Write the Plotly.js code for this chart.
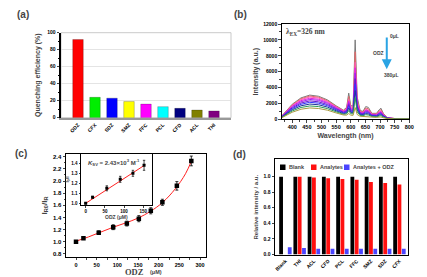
<!DOCTYPE html>
<html><head><meta charset="utf-8">
<script src="https://cdn.plot.ly/plotly-3.0.1.min.js"></script>
<style>html,body{margin:0;padding:0;background:#fff}#g{width:427px;height:277px}</style>
</head><body><div id="g"></div>
<script>
// ---- Panel (a) data ----
const aCats = ['ODZ','CFX','SDZ','SMZ','FFC','PCL','CFD','ACL','THI'];
const aVals = [92, 24, 23, 19, 16, 13, 11, 9, 8];
const aColors = ['#ff0000','#00ee00','#0000ff','#ffff00','#ff00ff','#00ffff','#000080','#808000','#800080'];

// ---- Panel (b) data ----
const bWave = [365,380,400,430,460,490,520,550,575,586,593,600,608,615,622,632,642,651,660,672,688,697,703,712,725,750,800];
const bS0 = [450,1100,1900,2700,3050,2900,2450,1700,1150,1500,3300,1700,1700,10000,2800,1100,1000,1600,1500,750,750,1200,1400,700,200,100,100];
const bS1 = [430,1060,1820,2590,2930,2780,2350,1630,1100,1380,2890,1540,1530,8500,2440,1010,920,1420,1330,690,680,1050,1220,620,190,100,100];
const bS2 = [410,1010,1750,2480,2810,2670,2250,1560,1060,1270,2520,1390,1380,7180,2130,920,840,1250,1170,640,620,920,1060,560,180,90,90];
const bS3 = [390,960,1650,2350,2650,2520,2130,1480,1000,1190,2310,1290,1280,6490,1940,860,790,1150,1080,590,570,850,970,510,170,90,90];
const bS4 = [370,900,1560,2210,2500,2380,2010,1390,940,1100,2100,1190,1170,5810,1760,800,730,1050,980,550,530,770,880,470,160,80,80];
const bS5 = [340,840,1440,2050,2320,2200,1860,1290,870,1010,1870,1080,1060,5120,1580,730,670,950,880,500,480,690,780,420,150,80,80];
const bS6 = [320,770,1330,1890,2140,2030,1720,1190,810,910,1650,970,950,4420,1390,660,600,840,780,460,430,610,690,380,140,70,70];
const bS7 = [280,690,1200,1700,1920,1830,1540,1070,720,800,1400,840,830,3630,1170,580,530,720,670,400,380,520,580,330,130,60,60];
const bS8 = [250,610,1050,1490,1680,1600,1350,940,630,680,1110,700,680,2740,930,490,450,580,540,340,310,410,460,270,110,60,60];
const bS9 = [210,520,890,1270,1430,1360,1150,800,540,530,730,520,500,1480,600,380,350,400,370,270,240,280,290,190,90,50,50];
const bSeries = [bS0,bS1,bS2,bS3,bS4,bS5,bS6,bS7,bS8,bS9];
const bColors = ['#7a7a7a','#e06a6a','#ff5ab0','#e020e0','#a020f0','#6a1cc8','#3535ff','#22349a','#2e9a5a','#a89a40'];

// ---- Panel (c) data ----
const cX = [0, 18, 55, 90, 123, 152, 181, 209, 244, 279];
const cY = [1.00, 1.06, 1.15, 1.24, 1.30, 1.38, 1.51, 1.65, 1.92, 2.33];
const cErr = [0.02, 0.02, 0.03, 0.04, 0.04, 0.05, 0.05, 0.05, 0.07, 0.08];
const cFitX = [0, 30, 60, 90, 120, 150, 180, 210, 240, 265, 280];
const cFitY = [1.01, 1.08, 1.16, 1.24, 1.31, 1.39, 1.50, 1.65, 1.87, 2.12, 2.34];
const iX = [0, 18, 55, 90, 123, 152];
const iY = [1.00, 1.06, 1.15, 1.24, 1.30, 1.38];
const iErr = [0.005, 0.01, 0.025, 0.03, 0.03, 0.05];
const iFitX = [0, 155];
const iFitY = [1.00, 1.385];

// ---- Panel (d) data ----
const dCats = ['Blank','THI','ACL','CFD','PCL','FFC','SMZ','SDZ','CFX'];
const dBlank = [1.0, 1.0, 1.0, 1.0, 1.0, 1.0, 1.0, 1.0, 1.0];
const dAnalytes = [null, 1.0, 0.99, 0.98, 0.97, 0.96, 0.93, 0.92, 0.90];
const dAnalytesODZ = [0.09, 0.08, 0.07, 0.07, 0.07, 0.07, 0.07, 0.07, 0.07];
const dTicks = [0, 0.2, 0.4, 0.6, 0.8, 1.0];

const W = 427, H = 277;
const px = v => v / W;
const py = v => 1 - v / H;
const F = 'Liberation Sans, Arial, sans-serif';
const TF = 'Liberation Serif, Times New Roman, serif';
const tickF = s => ({family: F, size: s, color: '#000', weight: 'bold'});

const traces = [];
traces.push({type:'bar', x:aCats, y:aVals, xaxis:'x', yaxis:'y', width:0.62,
  marker:{color:aColors, line:{color:'rgba(0,0,0,0.35)', width:0.6}}, showlegend:false});

bSeries.forEach((s,i) => traces.push({type:'scatter', mode:'lines', x:bWave, y:s, xaxis:'x2', yaxis:'y2',
  line:{color:bColors[i], width:1}, showlegend:false}));

traces.push({type:'scatter', mode:'lines', x:cFitX, y:cFitY, xaxis:'x3', yaxis:'y3',
  line:{color:'#ff2020', width:1, shape:'spline'}, showlegend:false});
traces.push({type:'scatter', mode:'markers', x:cX, y:cY, xaxis:'x3', yaxis:'y3',
  marker:{symbol:'square', size:4.5, color:'#000'},
  error_y:{type:'data', array:cErr, color:'#000', thickness:0.8, width:1.5}, showlegend:false});
traces.push({type:'scatter', mode:'lines', x:iFitX, y:iFitY, xaxis:'x4', yaxis:'y4',
  line:{color:'#ff2020', width:1}, showlegend:false});
traces.push({type:'scatter', mode:'markers', x:iX, y:iY, xaxis:'x4', yaxis:'y4',
  marker:{symbol:'square', size:3, color:'#000'},
  error_y:{type:'data', array:iErr, color:'#000', thickness:0.7, width:1.2}, showlegend:false});

traces.push({type:'bar', x:dCats, y:dBlank, xaxis:'x5', yaxis:'y5', name:'Blank', marker:{color:'#000'}, showlegend:false});
traces.push({type:'bar', x:dCats, y:dAnalytes, xaxis:'x5', yaxis:'y5', name:'Analytes', marker:{color:'#ff1010'}, showlegend:false});
traces.push({type:'bar', x:dCats, y:dAnalytesODZ, xaxis:'x5', yaxis:'y5', name:'Analytes + ODZ', marker:{color:'#4a44ff'}, showlegend:false});

const ax = (o) => Object.assign({showgrid:false, zeroline:false, ticks:'outside', ticklen:2.5, tickwidth:1,
  linecolor:'#000', linewidth:1, tickfont:tickF(5.5), automargin:false}, o);

const layout = {
  width: W, height: H, margin:{l:0,r:0,t:0,b:0}, paper_bgcolor:'#fff', plot_bgcolor:'#fff',
  barmode:'group', bargap:0.09, bargroupgap:0.12, showlegend:false,
  xaxis: ax({domain:[px(61),px(231)], range:[-1,9], anchor:'y', showline:true, linecolor:'#999', linewidth:2.5, ticks:'',
    tickangle:-45, tickfont:tickF(5)}),
  yaxis: ax({domain:[py(117.7),py(32.7)], range:[0,100], anchor:'x', dtick:20, showline:true, linewidth:2,
    showgrid:true, gridcolor:'#d8d8d8', gridwidth:0.7, tickfont:tickF(5),
    minor:{dtick:10, ticks:'outside', ticklen:1.5, tickcolor:'#000'},
    title:{text:'Quenching efficiency (%)', font:{family:F, size:7, weight:'bold'}, standoff:6}}),
  xaxis2: ax({domain:[px(281.7),px(409.3)], range:[364,800], anchor:'y2', dtick:50, tick0:400, showline:true, mirror:true,
    minor:{dtick:25, ticks:'outside', ticklen:1.5},
    title:{text:'Wavelength (nm)', font:{family:F, size:7, weight:'bold'}, standoff:3}}),
  yaxis2: ax({domain:[py(119.3),py(24)], range:[0,12000], anchor:'x2', dtick:2000, tickformat:'d', showline:true, mirror:true,
    minor:{dtick:1000, ticks:'outside', ticklen:1.5}, tickfont:tickF(5),
    title:{text:'Intensity (a.u.)', font:{family:F, size:7, weight:'bold'}, standoff:3}}),
  xaxis3: ax({domain:[px(66),px(205.7)], range:[-24.2,313.8], anchor:'y3', dtick:50, showline:true, mirror:true, tickfont:tickF(5.5),
    ticklen:2, minor:{dtick:25, ticks:'outside', ticklen:1.5}}),
  yaxis3: ax({domain:[py(257),py(154)], range:[0.75,2.444], anchor:'x3', dtick:0.2, tickformat:'.1f', showline:true, mirror:true,
    tickfont:tickF(6), minor:{dtick:0.1, ticks:'outside', ticklen:1.5},
    title:{text:'I<sub>R0</sub>/I<sub>R</sub>', font:{family:F, size:8, weight:'bold'}, standoff:4}}),
  xaxis4: ax({domain:[px(81),px(151.7)], range:[-12.2,171.9], dtick:50, showline:true, mirror:true, tickfont:tickF(4.5),
    ticklen:1.5, anchor:'y4',
    title:{text:'ODZ (μM)', font:{family:F, size:5, weight:'bold'}, standoff:1}}),
  yaxis4: ax({domain:[py(205),py(154)], range:[0.983,1.493], dtick:0.1, tickformat:'.1f', showline:true, mirror:true,
    tickfont:tickF(4.5), ticklen:1.5, anchor:'x4',
    title:{text:'I<sub>0</sub>/I', font:{family:F, size:5, weight:'bold'}, standoff:1}}),
  xaxis5: ax({domain:[px(275),px(408)], range:[-0.73,8.6], showline:true, mirror:true, ticks:'',
    tickangle:-45, tickfont:tickF(5), anchor:'y5'}),
  yaxis5: ax({domain:[py(255.3),py(159)], range:[-0.013,1.228], tickmode:'array', tickvals:dTicks, tickformat:'.1f', showline:true, mirror:true,
    tickfont:tickF(5), anchor:'x5',
    title:{text:'Relative intensity / a.u.', font:{family:F, size:6, weight:'bold'}, standoff:4}}),
  shapes: [
    {type:'rect', xref:'x domain', yref:'y domain', x0:0, x1:1, y0:0, y1:1, line:{color:'#bbb', width:0.8}, layer:'below'},
    {type:'rect', xref:'paper', yref:'paper', x0:px(280), x1:px(285.5), y0:py(170), y1:py(164.5), fillcolor:'#000', line:{width:0}},
    {type:'rect', xref:'paper', yref:'paper', x0:px(311), x1:px(316.5), y0:py(170), y1:py(164.5), fillcolor:'#ff1010', line:{width:0}},
    {type:'rect', xref:'paper', yref:'paper', x0:px(344), x1:px(349.5), y0:py(170), y1:py(164.5), fillcolor:'#4a44ff', line:{width:0}}
  ],
  annotations: [
    {text:'(a)', xref:'paper', yref:'paper', x:px(15), y:py(15), xanchor:'left', yanchor:'middle', showarrow:false, font:{family:F, size:10, weight:'bold'}},
    {text:'(b)', xref:'paper', yref:'paper', x:px(232), y:py(15), xanchor:'left', yanchor:'middle', showarrow:false, font:{family:F, size:10, weight:'bold'}},
    {text:'(c)', xref:'paper', yref:'paper', x:px(13), y:py(153), xanchor:'left', yanchor:'middle', showarrow:false, font:{family:F, size:10, weight:'bold'}},
    {text:'(d)', xref:'paper', yref:'paper', x:px(231), y:py(154), xanchor:'left', yanchor:'middle', showarrow:false, font:{family:F, size:10, weight:'bold'}},
    {text:'ODZ', xref:'paper', yref:'paper', x:px(146), y:py(271.5), xanchor:'right', yanchor:'middle', showarrow:false, font:{family:TF, size:8.5, weight:'bold'}},
    {text:'(μM)', xref:'paper', yref:'paper', x:px(148), y:py(272.3), xanchor:'left', yanchor:'middle', showarrow:false, font:{family:F, size:5.5, weight:'bold'}},
    {text:'λ<sub>EX</sub>=326 nm', xref:'x2', yref:'y2', x:371, y:11000, xanchor:'left', yanchor:'middle', showarrow:false, font:{family:TF, size:7.5, weight:'bold'}},
    {text:'', xref:'x2', yref:'y2', x:723, y:6300, ax:723, ay:10500, axref:'x2', ayref:'y2', showarrow:true, arrowhead:2, arrowsize:1, arrowwidth:2, arrowcolor:'#2aa4e4'},
    {text:'0μL', xref:'x2', yref:'y2', x:727, y:10500, xanchor:'left', yanchor:'middle', showarrow:false, font:{family:F, size:5, weight:'bold'}},
    {text:'ODZ', xref:'x2', yref:'y2', x:695, y:8400, xanchor:'center', yanchor:'middle', showarrow:false, font:{family:F, size:5, weight:'bold'}},
    {text:'380μL', xref:'x2', yref:'y2', x:738, y:5600, xanchor:'center', yanchor:'middle', showarrow:false, font:{family:F, size:5, weight:'bold'}},
    {text:'<i>K</i><sub>SV</sub> = 2.43×10<sup>3</sup> M<sup>-1</sup>', xref:'paper', yref:'paper', x:px(86), y:py(162), xanchor:'left', yanchor:'middle', showarrow:false, font:{family:F, size:6, weight:'bold'}},
    {text:'Blank', xref:'paper', yref:'paper', x:px(287), y:py(167.3), xanchor:'left', yanchor:'middle', showarrow:false, font:{family:F, size:5.5, weight:'bold'}},
    {text:'Analytes', xref:'paper', yref:'paper', x:px(318), y:py(167.3), xanchor:'left', yanchor:'middle', showarrow:false, font:{family:F, size:5.5, weight:'bold'}},
    {text:'Analytes + ODZ', xref:'paper', yref:'paper', x:px(351), y:py(167.3), xanchor:'left', yanchor:'middle', showarrow:false, font:{family:F, size:5.5, weight:'bold'}}
  ]
};

Plotly.newPlot('g', traces, layout, {staticPlot:true, displayModeBar:false});
</script></body></html>
